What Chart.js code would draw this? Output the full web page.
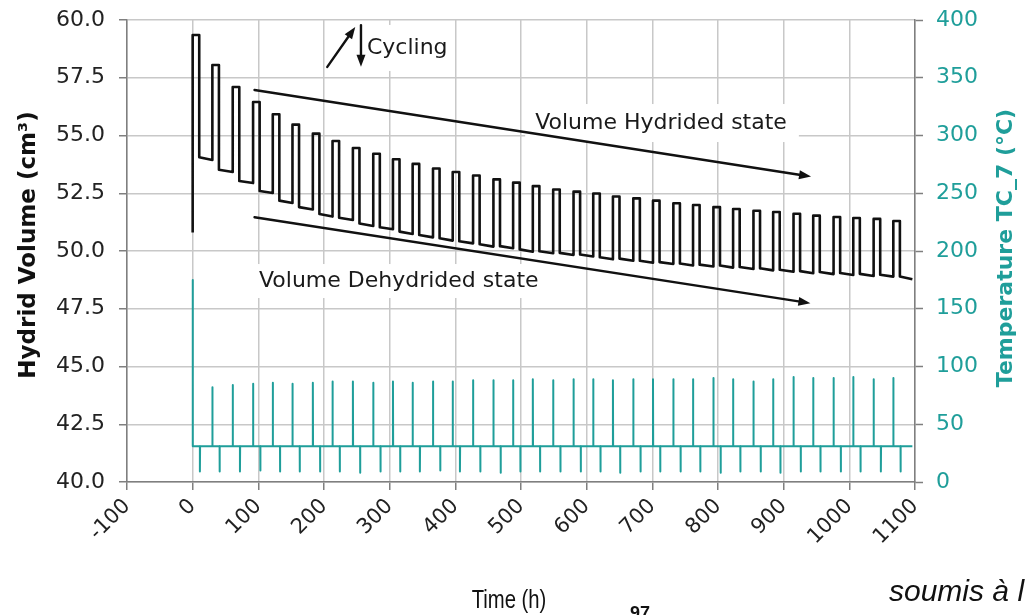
<!DOCTYPE html>
<html><head><meta charset="utf-8">
<script src="https://cdn.jsdelivr.net/npm/chart.js@4.4.0/dist/chart.umd.min.js"></script>
<style>html,body{margin:0;padding:0;background:#fff;overflow:hidden}canvas{display:block}</style>
</head><body>
<canvas id="c" width="1029" height="615"></canvas>
<script>
// ---- data ----
const cycleStart = [0,30,61,92,122,152,183,213,244,275,305,335,366,396,427,458,488,518,549,580,610,640,671,701,732,762,793,823,854,884,915,945,976,1006,1037,1067];
const hydridedVolume = [59.35,58.05,57.10,56.45,55.92,55.47,55.08,54.76,54.46,54.21,53.97,53.77,53.57,53.42,53.27,53.10,52.96,52.81,52.66,52.57,52.49,52.36,52.28,52.18,52.07,51.99,51.90,51.82,51.74,51.69,51.61,51.53,51.47,51.43,51.39,51.30];
// dehydrided plateau: level just after the drop, and level just before the next rise
const dehydridedStart = [54.06,53.52,53.03,52.60,52.18,51.90,51.60,51.44,51.19,51.03,50.84,50.69,50.55,50.42,50.29,50.21,50.07,49.99,49.92,49.85,49.73,49.67,49.58,49.52,49.46,49.41,49.37,49.31,49.25,49.19,49.13,49.09,49.05,49.01,48.97,48.90];
const dehydridedVolume = [53.94,53.42,52.94,52.51,52.08,51.80,51.49,51.34,51.08,50.94,50.74,50.59,50.45,50.33,50.19,50.12,49.97,49.90,49.83,49.76,49.64,49.58,49.49,49.44,49.37,49.33,49.28,49.22,49.16,49.10,49.04,49.00,48.96,48.92,48.89,48.78];
const tempPeak = [175,82,84,85,86,85,86,87,87,86,87,86,87,87,88,88,88,89,88,89,89,88,89,89,89,89,90,89,87,89,91,90,90,91,89,90];
const tempLow = [9,9,9,10,9,9,9,9,8,9,9,9,10,9,9,8,9,9,9,9,9,8,9,9,9,9,8,9,9,8,9,9,9,9,9,9];
const startVolume = 50.8;
const baseTemp = 31;
const endTime = 1096;
const hydHold = 10;      // hours spent in hydrided plateau
const lowSpikeDelay = 11; // hours after cycle start of the cold spike
const xTickValues = [-100,0,100,200,300,400,500,600,700,800,900,1000,1100];
const volumeTickValues = [40,42.5,45,47.5,50,52.5,55,57.5,60];
const tempTickValues = [0,50,100,150,200,250,300,350,400];

// ---- build series ----
const volumePoints = [{x: cycleStart[0], y: startVolume}];
cycleStart.forEach((t, k) => {
  const prev = k === 0 ? startVolume : dehydridedVolume[k - 1];
  const next = k < cycleStart.length - 1 ? cycleStart[k + 1] : endTime;
  volumePoints.push({x: t, y: prev}, {x: t, y: hydridedVolume[k]},
    {x: t + hydHold, y: hydridedVolume[k]}, {x: t + hydHold, y: dehydridedStart[k]},
    {x: next, y: dehydridedVolume[k]});
});
const tempPoints = [];
cycleStart.forEach((t, k) => {
  tempPoints.push({x: t, y: baseTemp}, {x: t, y: tempPeak[k]}, {x: t + 0.3, y: baseTemp},
    {x: t + lowSpikeDelay, y: baseTemp}, {x: t + lowSpikeDelay, y: tempLow[k]}, {x: t + lowSpikeDelay + 0.3, y: baseTemp});
});
tempPoints.push({x: endTime, y: baseTemp});

const TEAL = '#1f9e9a';
const AXIS = '#7f7f7f';
const GRID = '#c8c8c8';
const FONT = 'DejaVu Sans';

const arrows = [
  {from: [94.2, 56.97], to: [941.7, 53.22]},
  {from: [94.2, 51.46], to: [940.7, 47.74]},
  {from: [205, 57.97], to: [247.6, 59.70]},
  {from: [256.3, 59.78], to: [256.3, 57.98]}
];
const notes = [
  {text: 'Cycling', x: 265.4, y: 58.79, padL: 3, padR: 6, half: 23},
  {text: 'Volume Hydrided state', x: 521.6, y: 55.54, padL: 10, padR: 12, half: 19},
  {text: 'Volume Dehydrided state', x: 101, y: 48.70, padL: 4, padR: 6, half: 17}
];

const annot = {
  id: 'annot',
  beforeDatasetsDraw(chart) {
    const ctx = chart.ctx, xs = chart.scales.x, ys = chart.scales.y;
    ctx.save();
    ctx.font = '22px "' + FONT + '"';
    ctx.fillStyle = '#fff';
    notes.forEach(n => {
      const px = xs.getPixelForValue(n.x), py = ys.getPixelForValue(n.y);
      const w = ctx.measureText(n.text).width;
      ctx.fillRect(px - n.padL, py - n.half, w + n.padL + n.padR, n.half * 2);
    });
    ctx.restore();
  },
  afterDatasetsDraw(chart) {
    const ctx = chart.ctx, xs = chart.scales.x, ys = chart.scales.y;
    ctx.save();
    ctx.strokeStyle = '#111'; ctx.fillStyle = '#111'; ctx.lineWidth = 2.4; ctx.lineCap = 'round';
    arrows.forEach(a => {
      const x1 = xs.getPixelForValue(a.from[0]), y1 = ys.getPixelForValue(a.from[1]);
      const x2 = xs.getPixelForValue(a.to[0]), y2 = ys.getPixelForValue(a.to[1]);
      const ang = Math.atan2(y2 - y1, x2 - x1), L = 12, W = 4.5;
      const bx = x2 - L * Math.cos(ang), by = y2 - L * Math.sin(ang);
      ctx.beginPath(); ctx.moveTo(x1, y1); ctx.lineTo(bx, by); ctx.stroke();
      ctx.beginPath(); ctx.moveTo(x2, y2);
      ctx.lineTo(bx + W * Math.sin(ang), by - W * Math.cos(ang));
      ctx.lineTo(bx - W * Math.sin(ang), by + W * Math.cos(ang));
      ctx.closePath(); ctx.fill();
    });
    ctx.font = '22px "' + FONT + '"';
    ctx.textBaseline = 'middle'; ctx.textAlign = 'left'; ctx.fillStyle = '#1a1a1a';
    notes.forEach(n => ctx.fillText(n.text, xs.getPixelForValue(n.x), ys.getPixelForValue(n.y)));
    ctx.restore();
  },
  afterDraw(chart) {
    const ctx = chart.ctx;
    ctx.save();
    ctx.textAlign = 'center'; ctx.textBaseline = 'middle';
    // left title
    ctx.save(); ctx.translate(29.5, 245); ctx.rotate(-Math.PI / 2);
    ctx.font = 'bold 23px "' + FONT + '"'; ctx.fillStyle = '#111';
    ctx.fillText('Hydrid Volume (cm³)', 0, 0); ctx.restore();
    // right title
    ctx.save(); ctx.translate(1006, 248); ctx.rotate(-Math.PI / 2);
    ctx.font = 'bold 22px "' + FONT + '"'; ctx.fillStyle = TEAL;
    ctx.fillText('Temperature TC_7 (°C)', 0, 0); ctx.restore();
    // bottom title (narrow face)
    ctx.save(); ctx.translate(509, 601); ctx.scale(0.78, 1);
    ctx.font = '26px "Liberation Sans", Arial'; ctx.fillStyle = '#111';
    ctx.fillText('Time (h)', 0, 0); ctx.restore();
    // surrounding page text
    ctx.textAlign = 'left'; ctx.textBaseline = 'alphabetic'; ctx.fillStyle = '#111';
    ctx.font = 'italic 30px "Liberation Sans", Arial';
    ctx.fillText('soumis à l', 889, 601);
    ctx.font = 'bold 18px "Liberation Sans", Arial';
    ctx.fillText('97', 630, 619);
    ctx.restore();
  }
};

const setTicks = vals => scale => { scale.ticks = vals.map(v => ({value: v})); };
const noPad = w => s => { s.width = w; s.paddingTop = 0; s.paddingBottom = 0; };

new Chart(document.getElementById('c'), {
  type: 'line',
  data: {
    datasets: [
      {data: volumePoints, yAxisID: 'y', borderColor: '#111', borderWidth: 2.6, pointRadius: 0, tension: 0, borderJoinStyle: 'round', order: 1},
      {data: tempPoints, yAxisID: 'y2', borderColor: TEAL, borderWidth: 2, pointRadius: 0, tension: 0, borderJoinStyle: 'round', order: 2}
    ]
  },
  options: {
    responsive: false, animation: false, devicePixelRatio: 1,
    layout: {padding: {top: 20, left: 0, right: 0, bottom: 0}},
    plugins: {legend: {display: false}, tooltip: {enabled: false}},
    scales: {
      x: {
        type: 'linear', min: -100, max: 1100,
        afterBuildTicks: setTicks(xTickValues),
        afterFit: s => { s.height = 133; },
        grid: {color: GRID, lineWidth: 1.5, tickLength: 8, tickColor: AXIS, tickWidth: 1.5},
        border: {color: AXIS, width: 1.5},
        ticks: {minRotation: 45, maxRotation: 45, autoSkip: false, padding: 4, color: '#222', font: {family: FONT, size: 21}, callback: v => String(v)}
      },
      y: {
        position: 'left', min: 40, max: 60,
        afterBuildTicks: setTicks(volumeTickValues),
        afterFit: noPad(127),
        grid: {color: GRID, lineWidth: 1.5, tickLength: 8, tickColor: AXIS, tickWidth: 1.5},
        border: {color: AXIS, width: 1.5},
        ticks: {padding: 14, color: '#222', font: {family: FONT, size: 22}, callback: v => v.toFixed(1)}
      },
      y2: {
        position: 'right', min: 0, max: 400,
        afterBuildTicks: setTicks(tempTickValues),
        afterFit: noPad(114),
        grid: {drawOnChartArea: false, tickLength: 8, tickColor: AXIS, tickWidth: 1.5},
        border: {color: AXIS, width: 1.5},
        ticks: {padding: 13, color: TEAL, font: {family: FONT, size: 22}}
      }
    }
  },
  plugins: [annot]
});
</script>
</body></html>
